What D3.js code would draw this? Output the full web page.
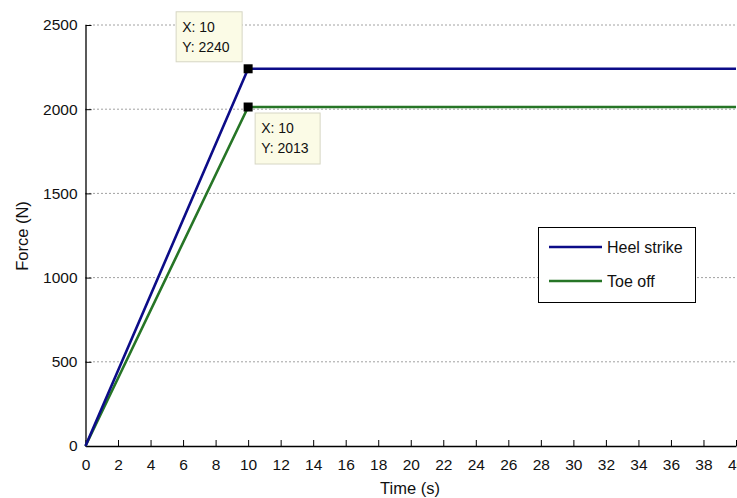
<!DOCTYPE html>
<html><head><meta charset="utf-8">
<script src="https://cdn.jsdelivr.net/npm/d3@7"></script>
<style>
body{margin:0;background:#fff;}
svg{display:block;font-family:"Liberation Sans",Arial,sans-serif;}
</style></head>
<body>
<svg id="chart" width="737" height="498"></svg>
<script>
const time = [0, 10, 40];
const heelStrike = [0, 2240, 2240];
const toeOff = [0, 2013, 2013];
const seriesNames = ["Heel strike", "Toe off"];
const seriesColors = ["#0c0c88", "#267526"];
const xTicks = d3.range(0, 41, 2);
const yTicks = [0, 500, 1000, 1500, 2000, 2500];
const tips = [{x: 10, y: 2240, series: 0}, {x: 10, y: 2013, series: 1}];

const svg = d3.select("#chart");
const L = 85.5, R = 736, T = 25, B = 446;
const x = d3.scaleLinear().domain([0, 40]).range([L, R]);
const y = d3.scaleLinear().domain([0, 2500]).range([B, T]);

// grid
svg.append("g").selectAll("line").data(yTicks.filter(d => d > 0)).join("line")
  .attr("x1", L).attr("x2", R + 5).attr("y1", d => y(d)).attr("y2", d => y(d))
  .attr("stroke", "#444").attr("stroke-width", 1).attr("stroke-dasharray", "1,3");

// axes
const xAxis = d3.axisBottom(x).tickValues(xTicks).tickFormat(d3.format("d"))
  .tickSizeInner(-6).tickSizeOuter(0).tickPadding(13);
const gx = svg.append("g").attr("transform", `translate(0,${B})`).call(xAxis);
const yAxis = d3.axisLeft(y).tickValues(yTicks).tickFormat(d3.format("d"))
  .tickSizeInner(-6).tickSizeOuter(0).tickPadding(8);
const gy = svg.append("g").attr("transform", `translate(${L},0)`).call(yAxis);
[gx, gy].forEach(g => {
  g.selectAll("path").attr("stroke", "#000").attr("stroke-width", 1.3);
  g.selectAll("line").attr("stroke", "#000").attr("stroke-width", 1);
  g.selectAll("text").attr("font-size", 15.5).attr("fill", "#111").attr("font-family", "Liberation Sans, Arial, sans-serif");
});

// lines
const line = d3.line().x((d, i) => x(time[i])).y(d => y(d));
[toeOff, heelStrike].forEach((s, k) => {
  const idx = k === 0 ? 1 : 0;
  svg.append("path").datum(s).attr("d", line).attr("fill", "none")
    .attr("stroke", seriesColors[idx]).attr("stroke-width", 2.6);
});

// markers
svg.append("g").selectAll("rect").data(tips).join("rect")
  .attr("x", d => x(d.x) - 4.5).attr("y", d => y(d.y) - 4.5)
  .attr("width", 9).attr("height", 9).attr("fill", "#000");

// datatips
const tipBoxes = [{dx: -72, dy: -57, w: 66, h: 50}, {dx: 7, dy: 6, w: 65, h: 51}];
tips.forEach((t, i) => {
  const b = tipBoxes[i];
  const bx = x(t.x) + b.dx, by = y(t.y) + b.dy;
  const g = svg.append("g");
  g.append("rect").attr("x", bx).attr("y", by).attr("width", b.w).attr("height", b.h)
    .attr("fill", "#fbfbe6").attr("stroke", "#d6d6c4").attr("stroke-width", 1);
  g.append("text").attr("x", bx + 6).attr("y", by + 20).attr("font-size", 14).attr("fill", "#111").text("X: " + t.x);
  g.append("text").attr("x", bx + 6).attr("y", by + 40).attr("font-size", 14).attr("fill", "#111").text("Y: " + t.y);
});

// legend
const lg = svg.append("g");
lg.append("rect").attr("x", 538.5).attr("y", 227.5).attr("width", 157).attr("height", 75)
  .attr("fill", "#fff").attr("stroke", "#000").attr("stroke-width", 1);
seriesNames.forEach((n, i) => {
  const ly = 247 + i * 34;
  lg.append("line").attr("x1", 549).attr("x2", 602).attr("y1", ly).attr("y2", ly)
    .attr("stroke", seriesColors[i]).attr("stroke-width", 2.6);
  lg.append("text").attr("x", 607).attr("y", ly + 5.5).attr("font-size", 16).attr("fill", "#111").text(n);
});

// axis titles
svg.append("text").attr("x", 410).attr("y", 494).attr("text-anchor", "middle")
  .attr("font-size", 16.5).attr("fill", "#111").text("Time (s)");
svg.append("text").attr("transform", "translate(28,236) rotate(-90)").attr("text-anchor", "middle")
  .attr("font-size", 16.5).attr("fill", "#111").text("Force (N)");
</script>
</body></html>
